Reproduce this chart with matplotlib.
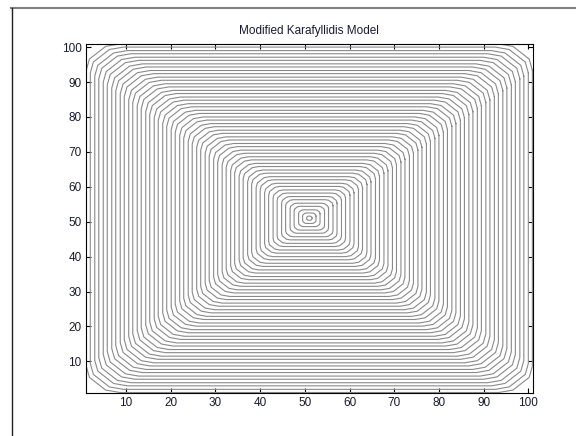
import numpy as np
import matplotlib
matplotlib.use('Agg')
import matplotlib.pyplot as plt
from matplotlib.lines import Line2D

plt.rcParams['font.family'] = ['Liberation Sans', 'DejaVu Sans']

# centre of the fire front (grid cell) and the contour sizes
centre_x = 51
centre_y = 51

# half size of each contour ring, in grid cells from the centre
half_size = [0.6, 1.5, 2.4, 3.4, 4.3, 5.3, 6.2, 7.2, 8.1, 9.1,
             10.0, 11.0, 11.9, 12.9, 13.8, 14.8, 15.7, 16.7, 17.6, 18.6,
             19.5, 20.5, 21.4, 22.4, 23.3, 24.3, 25.2, 26.2, 27.1, 28.1,
             29.0, 30.0, 30.9, 31.9, 32.8, 33.8, 34.7, 35.7, 36.6, 37.6,
             38.5, 39.5, 40.4, 41.4, 42.3, 43.3, 44.2, 45.2, 46.1, 47.1,
             48.0, 49.0, 49.9]

# how much each ring's corners are cut off
corner_cut = [0.5, 0.9, 1.1, 1.3, 1.5, 1.7, 1.9, 2.1, 2.3, 2.5,
              2.7, 2.9, 3.1, 3.2, 3.4, 3.5, 3.7, 3.8, 4.0, 4.1,
              4.2, 4.4, 4.5, 4.6, 4.7, 4.8, 4.9, 5.0, 5.1, 5.2,
              5.3, 5.4, 5.5, 5.6, 5.7, 5.8, 5.9, 6.0, 6.1, 6.2,
              6.3, 6.4, 6.5, 6.6, 6.7, 6.8, 6.9, 7.0, 7.1, 7.2,
              7.3, 7.4, 7.5]

x_ticks = [10, 20, 30, 40, 50, 60, 70, 80, 90, 100]
y_ticks = [10, 20, 30, 40, 50, 60, 70, 80, 90, 100]


def ring(r, c):
    # closed square of half size r whose corners are cut off with size c
    xs, ys = [], []
    for q in range(4):
        mid = np.radians(q * 90 + 45)
        cx = centre_x + (r - c) * np.sign(np.cos(mid))
        cy = centre_y + (r - c) * np.sign(np.sin(mid))
        t = np.radians(q * 90 + np.array([0, 25, 65, 90]))
        xs.extend(cx + c * np.cos(t))
        ys.extend(cy + c * np.sin(t))
    xs.append(xs[0])
    ys.append(ys[0])
    return xs, ys


fig = plt.figure(figsize=(5.76, 4.36), dpi=100)
ax = fig.add_axes([0.149, 0.099, 0.776, 0.801])

for r, c in zip(half_size, corner_cut):
    xs, ys = ring(r, c)
    ax.plot(xs, ys, color='#8a8a8a', lw=0.8)

ax.set_xlim(1, 101)
ax.set_ylim(1, 101)
ax.set_xticks(x_ticks)
ax.set_yticks(y_ticks)
ax.tick_params(direction='in', top=True, right=True, labelsize=8.5,
               labelcolor='#1a1a30', length=3.3, width=0.8, pad=3)
for s in ax.spines.values():
    s.set_linewidth(0.8)
ax.set_title('Modified Karafyllidis Model', fontsize=8.5, pad=7, color='#1a1a30')

# window frame lines of the screenshot
fig.add_artist(Line2D([11 / 576, 1], [1 - 8.5 / 436] * 2, color='#808080', lw=1.5))
fig.add_artist(Line2D([11.5 / 576] * 2, [0, 1 - 8.5 / 436], color='#202020', lw=1))

plt.savefig('out.png', dpi=100)
